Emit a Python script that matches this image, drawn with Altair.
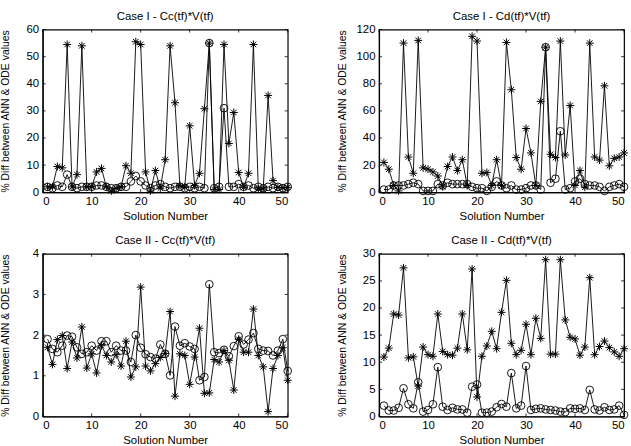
import altair as alt
import pandas as pd

# ---------------- data ----------------
solution = list(range(1, 51))
x_ticks = [0, 10, 20, 30, 40, 50]

# Case I - Cc(tf)*V(tf)
c1_cc_star = [2, 2, 9.5, 9, 54.5, 2, 6.5, 54, 2, 2,
              7.5, 8.8, 2, 0.5, 1.5, 2, 9.8, 7, 55.5, 54.5,
              7.5, 0.5, 8, 1.5, 12, 54, 33, 2.5, 2, 24.5,
              2.5, 7, 30.8, 55, 1, 1, 54.5, 18, 29.4, 7.3,
              1.8, 7, 54.5, 1.2, 1.2, 35.7, 4.3, 1.8, 1.6, 1.8]
c1_cc_circ = [2, 1.5, 2.5, 2, 6.5, 2, 1.5, 2, 2, 2,
              2.5, 2.5, 2, 1.5, 1.5, 2, 2, 4, 6, 4,
              2.5, 1.5, 2.5, 3, 2, 1.5, 2, 2, 1.5, 2,
              1.5, 2, 1.5, 55, 1.5, 2, 31, 2, 2, 3,
              2, 2.5, 1.5, 2, 1.5, 2, 1.5, 2, 1.5, 2]
c1_cc_yticks = [0, 10, 20, 30, 40, 50, 60]

# Case I - Cd(tf)*V(tf)
c1_cd_star = [22, 17, 5, 1, 110, 26, 14, 112, 18, 17,
              15, 12, 4, 19, 26, 16, 24, 5, 115, 111.5,
              14, 14.6, 5, 24, 5, 110.5, 75.6, 25.6, 17, 47,
              29, 5, 67, 107, 28, 25.6, 111.5, 27.5, 64, 5,
              16, 3.7, 110, 26, 23.7, 78.5, 19.5, 25, 26, 29]
c1_cd_circ = [2, 2, 5, 5, 5, 6, 7, 6, 1, 1,
              1, 6, 5, 7, 6, 6, 6, 6, 4, 3,
              3, 1, 4, 8, 5, 3, 5, 2, 2, 3,
              5, 5, 2, 107, 7, 10, 45, 2, 3, 8,
              10, 6, 5, 5, 4, 1, 4, 5, 6, 4]
c1_cd_yticks = [0, 20, 40, 60, 80, 100, 120]

# Case II - Cc(tf)*V(tf)
c2_cc_star = [1.7, 1.28, 1.89, 1.99, 1.18, 1.83, 1.44, 2.2, 1.19, 1.54,
              1.07, 1.74, 1.5, 1.34, 1.52, 1.24, 1.85, 0.97, 1.22, 3.18,
              1.24, 1.12, 1.3, 1.45, 1.55, 2.58, 0.5, 1.54, 1.5, 0.79,
              1.46, 2.17, 0.57, 0.58, 1.4, 1.34, 1.62, 1.38, 0.65, 1.9,
              1.58, 1.58, 2.64, 1.5, 1.22, 0.12, 1.18, 1.5, 1.69, 0.89]
c2_cc_circ = [1.9, 1.66, 1.58, 1.74, 1.99, 1.96, 1.7, 1.54, 1.58, 1.74,
              1.62, 1.85, 1.85, 1.58, 1.74, 1.62, 1.62, 1.34, 2.0, 1.69,
              1.53, 1.46, 1.42, 1.77, 1.54, 1.01, 2.21, 1.74, 1.8, 1.72,
              1.66, 0.89, 0.97, 3.25, 1.58, 1.56, 1.64, 1.48, 1.73, 1.97,
              1.77, 1.89, 2.05, 1.66, 1.62, 1.61, 1.5, 1.62, 1.9, 1.12]
c2_cc_yticks = [0, 1, 2, 3, 4]

# Case II - Cd(tf)*V(tf)
c2_cd_star = [10.95, 12.6, 18.9, 18.7, 27.4, 10.8, 11, 5.6, 12.8, 11.4,
              11.1, 18.9, 12.0, 11.4, 11.3, 12.6, 18.9, 12.3, 27.2, 3.6,
              11.1, 13, 15.7, 12.5, 19.2, 25.1, 13.5, 11.4, 12.2, 17,
              11.4, 18.1, 14.4, 28.9, 11.5, 11.5, 28.9, 17.8, 14.6, 14.3,
              11.3, 12.8, 25.6, 11.4, 12.9, 13.9, 12.7, 11.9, 11.1, 12.5]
c2_cd_circ = [2.0, 1.1, 1.1, 1.6, 5.2, 2.25, 1.5, 6.3, 0.9, 1.2,
              2.25, 9.1, 1.8, 1.2, 1.6, 1.3, 1.3, 0.7, 5.5, 5.9,
              0.7, 0.7, 0.9, 1.7, 2.3, 1.8, 8.0, 1.5, 2.0, 9.3,
              1.2, 1.4, 1.5, 1.3, 1.2, 1.1, 0.9, 0.8, 1.5, 1.4,
              1.5, 1.2, 4.9, 1.3, 1.1, 1.7, 1.2, 1.3, 2.0, 0.3]
c2_cd_yticks = [0, 5, 10, 15, 20, 25, 30]

# ---------------- styling ----------------
FONT = "Liberation Sans"
AST = "M-1,0L1,0M0,-1L0,1M-0.7,-0.7L0.7,0.7M-0.7,0.7L0.7,-0.7"
W, H = 247, 164
TICK = 3
XTITLE = "Solution Number"
YTITLE = "% Diff between ANN & ODE values"


def panel(title, star, circ, ymax, yticks):
    df = pd.DataFrame({
        "x": solution * 2,
        "v": star + circ,
        "s": ["star"] * len(star) + ["circ"] * len(circ),
    })
    xenc = alt.X("x:Q", scale=alt.Scale(domain=[0, 50], nice=False),
                 axis=alt.Axis(values=x_ticks, title=XTITLE))
    yenc = alt.Y("v:Q", scale=alt.Scale(domain=[0, ymax], nice=False),
                 axis=alt.Axis(values=yticks, title=YTITLE))
    base = alt.Chart(df)
    lines = base.mark_line(color="black", strokeWidth=0.9).encode(
        x=xenc, y=yenc, detail="s:N")
    stars = base.transform_filter(alt.datum.s == "star").mark_point(
        shape=AST, size=64, filled=False, color="black", strokeWidth=1, opacity=1
    ).encode(x=xenc, y=yenc)
    circles = base.transform_filter(alt.datum.s == "circ").mark_point(
        shape="circle", size=60, filled=False, color="black", strokeWidth=0.9, opacity=1
    ).encode(x=xenc, y=yenc)

    xt = alt.Chart(pd.DataFrame({"x": x_ticks}))
    yt = alt.Chart(pd.DataFrame({"v": yticks}))
    xtb = xt.mark_rule(color="black", strokeWidth=0.8).encode(
        x=xenc, y=alt.value(H), y2=alt.value(H - TICK))
    xtt = xt.mark_rule(color="black", strokeWidth=0.8).encode(
        x=xenc, y=alt.value(0), y2=alt.value(TICK))
    ytl = yt.mark_rule(color="black", strokeWidth=0.8).encode(
        y=yenc, x=alt.value(0), x2=alt.value(TICK))
    ytr = yt.mark_rule(color="black", strokeWidth=0.8).encode(
        y=yenc, x=alt.value(W), x2=alt.value(W - TICK))

    return alt.layer(lines, stars, circles, xtb, xtt, ytl, ytr).properties(
        width=W, height=H,
        title=alt.TitleParams(title, fontSize=11.5, fontWeight="normal",
                              font=FONT, offset=1, color="black"),
    )


tl = panel("Case I - Cc(tf)*V(tf)", c1_cc_star, c1_cc_circ, 60, c1_cc_yticks)
tr = panel("Case I - Cd(tf)*V(tf)", c1_cd_star, c1_cd_circ, 120, c1_cd_yticks)
bl = panel("Case II - Cc(tf)*V(tf)", c2_cc_star, c2_cc_circ, 4, c2_cc_yticks)
br = panel("Case II - Cd(tf)*V(tf)", c2_cd_star, c2_cd_circ, 30, c2_cd_yticks)

chart = alt.vconcat(
    alt.hconcat(tl, tr, spacing=42),
    alt.hconcat(bl, br, spacing=42),
    spacing=11,
).properties(
    padding={"left": 0, "top": 8, "right": 0, "bottom": 0},
    background="white",
).configure_view(
    stroke="black", strokeWidth=1.2, strokeOpacity=1
).configure_axis(
    grid=False, domain=True, domainColor="black", domainWidth=1.2,
    ticks=False, tickSize=0,
    labelFont=FONT, labelFontSize=11.5, labelColor="black",
    titleFont=FONT, titleFontWeight="normal", titleColor="black",
).configure_axisY(
    titleFontSize=10.5, minExtent=24, maxExtent=24, labelPadding=4, titlePadding=8,
).configure_axisX(
    titleFontSize=11.5, labelPadding=3, titlePadding=4,
)

chart.save("out.html", embed_options={"renderer": "svg", "actions": False})
